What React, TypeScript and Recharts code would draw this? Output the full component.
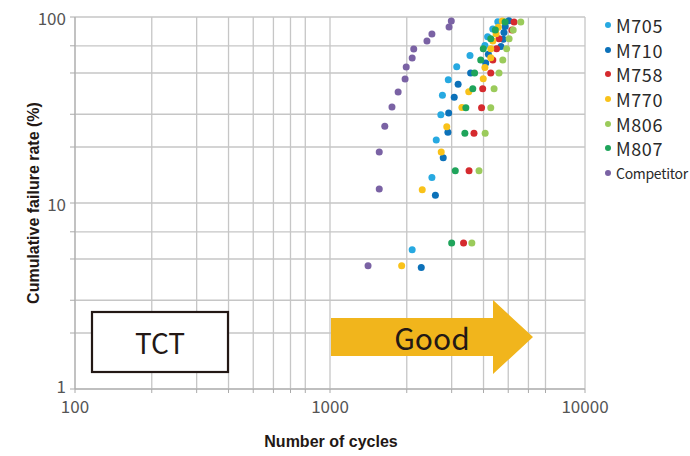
import { ScatterChart, Scatter, XAxis, YAxis, CartesianGrid, Label } from 'recharts';

const xTicks = [100, 200, 300, 400, 500, 600, 700, 800, 900, 1000, 2000, 3000, 4000, 5000, 6000, 7000, 8000, 9000, 10000];
const yTicks = [1, 2, 3, 4, 5, 6, 7, 8, 9, 10, 20, 30, 40, 50, 60, 70, 80, 90, 100];
const decades = [1, 10, 100, 1000, 10000];

const seriesNames = ['M705', 'M710', 'M758', 'M770', 'M806', 'M807', 'Competitor'];
const seriesColors = ['#27A9E1', '#0C71B9', '#D52A2E', '#F9C21A', '#9BCB5B', '#1FA45B', '#7A62A4'];

const m705Cycles = [2100, 2510, 2610, 2720, 2760, 2910, 3140, 3540, 4050, 4150, 4350, 4550];
const m705Rate = [5.6, 13.7, 21.8, 29.8, 37.9, 46.0, 54.0, 62.1, 70.2, 78.2, 86.3, 94.4];

const m710Cycles = [2280, 2590, 2780, 2900, 2920, 3070, 3180, 3560, 4080, 4180, 4680, 4780, 4810, 4860, 5030];
const m710Rate = [4.5, 11.0, 17.5, 24.0, 30.5, 37.0, 43.5, 50.0, 56.5, 63.0, 69.5, 76.0, 82.5, 89.0, 95.5];

const m758Cycles = [3340, 3510, 3670, 3930, 3970, 4270, 4350, 4500, 4600, 5170, 5270];
const m758Rate = [6.1, 14.9, 23.7, 32.5, 41.2, 50.0, 58.8, 67.5, 76.3, 85.1, 93.9];

const m770Cycles = [1910, 2300, 2730, 2870, 3290, 3500, 3990, 4050, 4270, 4270, 4350, 4480, 4570, 4740];
const m770Rate = [4.6, 11.8, 18.8, 25.7, 32.6, 39.6, 46.5, 53.5, 60.4, 67.4, 74.3, 81.3, 88.2, 95.1];

const m806Cycles = [3600, 3840, 4060, 4270, 4400, 4600, 4760, 4930, 5040, 5230, 5600];
const m806Rate = [6.1, 14.9, 23.7, 32.5, 41.2, 50.0, 58.8, 67.5, 76.3, 85.1, 93.9];

const m807Cycles = [3000, 3100, 3380, 3410, 3630, 3690, 3900, 3990, 4270, 4450, 4860];
const m807Rate = [6.1, 14.9, 23.7, 32.5, 41.2, 50.0, 58.8, 67.5, 76.3, 85.1, 93.9];

const competitorCycles = [1410, 1560, 1560, 1640, 1750, 1850, 1970, 1990, 2100, 2130, 2400, 2510, 2930, 2990];
const competitorRate = [4.6, 11.9, 18.8, 25.9, 32.8, 39.5, 46.4, 53.8, 60.2, 67.3, 74.3, 81.1, 88.4, 95.2];

const cyclesBySeries = [m705Cycles, m710Cycles, m758Cycles, m770Cycles, m806Cycles, m807Cycles, competitorCycles];
const rateBySeries = [m705Rate, m710Rate, m758Rate, m770Rate, m806Rate, m807Rate, competitorRate];

const toPoints = (xs: number[], ys: number[]) => xs.map((x, i) => ({ x, y: ys[i] }));

const FONT = '"Noto Sans CJK JP", "Noto Sans", sans-serif';
const BOLD = '"Liberation Sans", Arial, sans-serif';
const GRID = '#c6c6c6';

const decadeLabel = (v: number) => (decades.includes(v) ? String(v) : '');

// y tick: the bottom "1" sits a little higher so it clears the "100" below it
function YTick(props: any) {
  const { x, y, payload } = props;
  const text = decadeLabel(payload.value);
  if (!text) return null;
  const shift = payload.value === 1 ? -4 : 0;
  return (
    <text x={x - 2} y={y + shift} textAnchor="end" dominantBaseline="central" fontSize={17} fill="#555" fontFamily={FONT}>
      {text}
    </text>
  );
}

function LegendBox() {
  return (
    <div style={{ position: 'absolute', left: 605, top: 13, fontFamily: FONT, color: '#2a2a2a' }}>
      {seriesNames.map((name, i) => (
        <div key={name} style={{ display: 'flex', alignItems: 'center', height: 24.6 }}>
          <span
            style={{
              width: 6,
              height: 6,
              borderRadius: 3,
              background: seriesColors[i],
              marginRight: 5,
              display: 'inline-block',
            }}
          />
          <span style={{ fontSize: name === 'Competitor' ? 14 : 18, letterSpacing: name === 'Competitor' ? -0.3 : 0.6 }}>
            {name}
          </span>
        </div>
      ))}
    </div>
  );
}

function Overlay() {
  return (
    <svg width={690} height={456} style={{ position: 'absolute', left: 0, top: 0, pointerEvents: 'none' }}>
      <rect x={92} y={312} width={136} height={60} fill="#fff" stroke="#231815" strokeWidth={2.2} />
      <text x={160} y={342} textAnchor="middle" dominantBaseline="central" fontSize={28} fill="#231815" fontFamily={FONT}>
        TCT
      </text>
      <polygon points="331,318 493,318 493,300 533,337 493,374 493,356 331,356" fill="#F1B51C" />
      <text x={432} y={337} textAnchor="middle" dominantBaseline="central" fontSize={30} fill="#231815" fontFamily={FONT}>
        Good
      </text>
    </svg>
  );
}

export default function App() {
  return (
    <div style={{ position: 'absolute', left: 0, top: 0, width: 690, height: 456, background: '#fff' }}>
      <ScatterChart width={690} height={456} margin={{ top: 17, right: 105, bottom: 0, left: 0 }}>
        <CartesianGrid stroke={GRID} strokeWidth={1.3} />
        <XAxis
          type="number"
          dataKey="x"
          scale="log"
          domain={[100, 10000]}
          ticks={xTicks}
          tickFormatter={decadeLabel}
          allowDataOverflow
          height={67}
          stroke="#aaa"
          tickSize={4}
          tickMargin={8}
          tick={{ fontSize: 17, fill: '#555', fontFamily: FONT }}
        >
          <Label
            content={() => (
              <text x={331} y={441} textAnchor="middle" dominantBaseline="central" fontSize={16} fontWeight="bold" fill="#231815" fontFamily={BOLD}>
                Number of cycles
              </text>
            )}
          />
        </XAxis>
        <YAxis
          type="number"
          dataKey="y"
          scale="log"
          domain={[1, 100]}
          ticks={yTicks}
          allowDataOverflow
          width={75}
          stroke="#aaa"
          tickSize={5}
          tick={<YTick />}
        >
          <Label
            content={() => (
              <text
                x={33}
                y={203}
                transform="rotate(-90 33 203)"
                textAnchor="middle"
                dominantBaseline="central"
                fontSize={16}
                fontWeight="bold"
                fill="#231815"
                fontFamily={BOLD}
              >
                Cumulative failure rate (%)
              </text>
            )}
          />
        </YAxis>
        {seriesNames.map((name, i) => (
          <Scatter
            key={name}
            name={name}
            data={toPoints(cyclesBySeries[i], rateBySeries[i])}
            fill={seriesColors[i]}
            isAnimationActive={false}
            shape={(p: any) => <circle cx={p.cx} cy={p.cy} r={3.5} fill={seriesColors[i]} />}
          />
        ))}
      </ScatterChart>
      <Overlay />
      <LegendBox />
    </div>
  );
}
